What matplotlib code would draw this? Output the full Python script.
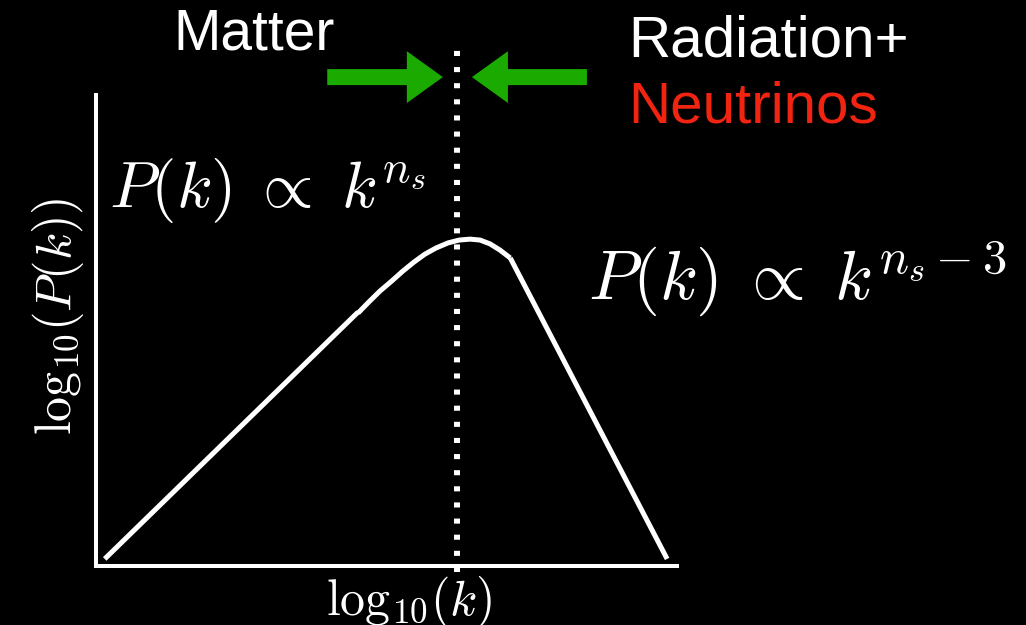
import matplotlib
matplotlib.use("Agg")
import matplotlib.pyplot as plt
from matplotlib.patches import FancyArrow

plt.rcParams['mathtext.fontset'] = 'cm'
plt.rcParams['font.family'] = ['Liberation Sans', 'DejaVu Sans']

# schematic power spectrum, log10(k) vs log10(P(k)), arbitrary units
k_low = [0.15, 4.51]
p_low = [0.15, 5.39]
k_turn = [4.51, 4.70, 4.89, 5.09, 5.28, 5.47, 5.66, 5.85, 6.06, 6.25,
          6.44, 6.61, 6.78, 6.95, 7.13]
p_turn = [5.37, 5.61, 5.84, 6.05, 6.26, 6.45, 6.62, 6.75, 6.86, 6.92,
          6.94, 6.92, 6.84, 6.71, 6.54]
k_high = [7.13, 9.83]
p_high = [6.54, 0.15]
k_eq = 6.22  # matter-radiation equality

fig = plt.figure(figsize=(10.26, 6.25), dpi=100, facecolor='black')
ax = fig.add_axes([96/1026, 59/625, 581/1026, 471/625])
ax.set_facecolor('black')
ax.set_xlim(0, 10)
ax.set_ylim(0, 10)

for k, p in [(k_low, p_low), (k_turn, p_turn), (k_high, p_high)]:
    ax.plot(k, p, color='white', lw=3.6, solid_capstyle='butt',
            solid_joinstyle='round')

ax.plot([k_eq, k_eq], [-0.13, 11.12], color='white', lw=4.3,
        linestyle=(0, (0.85, 1.85)), dash_capstyle='butt', clip_on=False)

for s in ['top', 'right']:
    ax.spines[s].set_visible(False)
for s in ['left', 'bottom']:
    ax.spines[s].set_color('white')
    ax.spines[s].set_linewidth(2.9)
ax.set_xticks([])
ax.set_yticks([])

green = '#1aaa00'
ax.add_patch(FancyArrow(3.98, 10.38, 5.97 - 3.98, 0, width=0.34, head_width=1.10,
                        head_length=0.62, length_includes_head=True,
                        color=green, lw=0, clip_on=False))
ax.add_patch(FancyArrow(8.45, 10.38, 6.47 - 8.45, 0, width=0.34, head_width=1.10,
                        head_length=0.62, length_includes_head=True,
                        color=green, lw=0, clip_on=False))

ax.text(1.33, 10.97, 'Matter', color='white', fontsize=41, va='baseline', clip_on=False)
ax.text(9.16, 10.81, 'Radiation+', color='white', fontsize=42, va='baseline', clip_on=False)
ax.text(9.16, 9.41, 'Neutrinos', color='#f02410', fontsize=42, va='baseline', clip_on=False)

ax.text(0.22, 7.62, r'$P(k)\;\propto\;k^{n_s}$', color='white', fontsize=47,
        va='baseline', clip_on=False)
ax.text(8.47, 5.65, r'$P(k)\;\propto\;k^{n_s-3}$', color='white', fontsize=50,
        va='baseline', clip_on=False)

ax.text(5.39, -0.17, r'$\mathrm{log}_{10}(k)$', color='white', fontsize=36,
        ha='center', va='top', clip_on=False)
ax.text(-0.654, 5.31, r'$\mathrm{log}_{10}(P(k))$', color='white', fontsize=36,
        ha='center', va='center', rotation=90, clip_on=False)

fig.savefig('out.png', dpi=100, facecolor='black')
